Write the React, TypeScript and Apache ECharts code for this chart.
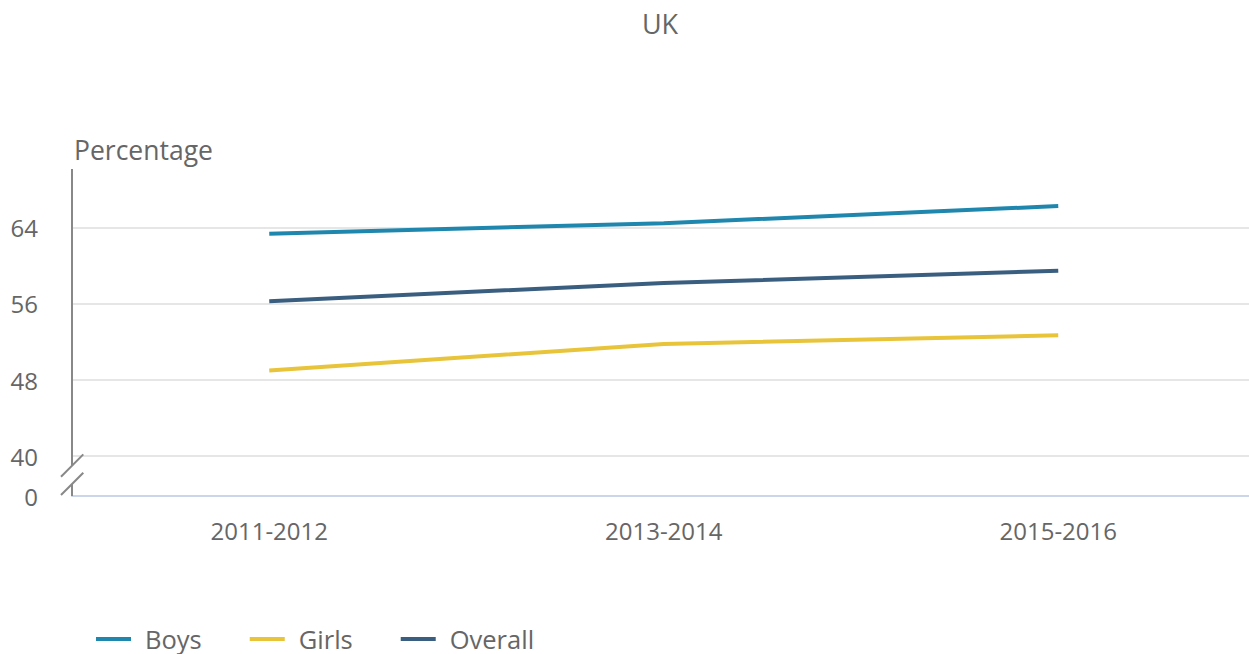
import React, { useEffect, useRef } from 'react';
import * as echarts from 'echarts';

const categories = ['2011-2012', '2013-2014', '2015-2016'];
const boys = [63.4, 64.5, 66.3];
const girls = [49.0, 51.8, 52.7];
const overall = [56.3, 58.2, 59.5];
const yTickValues = [40, 48, 56, 64];
const yBreakValue = 35.8; // shown as "0" below the axis break
const yMax = 70.2;

const FONT = '"Open Sans", sans-serif';
const TEXT = '#666666';

export default function App() {
  const ref = useRef<HTMLDivElement>(null);

  useEffect(() => {
    document.body.style.margin = '0';
    const chart = echarts.init(ref.current!, null, { renderer: 'svg' });
    const gridLeft = 72;
    chart.setOption({
      animation: false,
      title: {
        text: 'UK',
        left: 655,
        textAlign: 'center',
        top: 5,
        textStyle: { fontFamily: FONT, fontSize: 27, fontWeight: 'normal', color: TEXT },
      },
      grid: { left: gridLeft, right: 6.5, top: 169, bottom: 158, containLabel: false },
      legend: {
        data: ['Boys', 'Girls', 'Overall'],
        left: 91,
        top: 621,
        icon: 'rect',
        itemWidth: 35,
        itemHeight: 4,
        itemGap: 48,
        textStyle: { fontFamily: FONT, fontSize: 25.5, lineHeight: 24, color: TEXT, padding: [0, 0, 0, 9] },
      },
      xAxis: {
        type: 'category',
        data: categories,
        boundaryGap: true,
        axisLine: { lineStyle: { color: '#ccd6eb', width: 2 } },
        axisTick: { alignWithLabel: true, length: 20, lineStyle: { color: '#ccd6eb', width: 2 } },
        axisLabel: { fontFamily: FONT, fontSize: 24, color: TEXT, margin: 22 },
        splitLine: { show: false },
      },
      yAxis: {
        type: 'value',
        min: yBreakValue,
        max: yMax,
        name: 'Percentage',
        nameLocation: 'end',
        nameGap: 6,
        nameTextStyle: { fontFamily: FONT, fontSize: 26.5, color: TEXT, align: 'left', verticalAlign: 'bottom', padding: [0, 0, 0, 2] },
        axisLine: { show: false },
        axisTick: { show: false },
        splitLine: { show: false },
        axisLabel: {
          customValues: [yBreakValue, ...yTickValues],
          formatter: (v: number) => (Math.abs(v - yBreakValue) < 1e-6 ? '0' : String(v)),
          fontFamily: FONT,
          fontSize: 24,
          color: TEXT,
          margin: 34,
        },
      },
      series: [
        {
          name: 'Boys',
          type: 'line',
          data: boys,
          symbol: 'none',
          color: '#1f87ad',
          lineStyle: { width: 4, color: '#1f87ad' },
          z: 3,
          markLine: {
            silent: true,
            symbol: ['none', 'none'],
            label: { show: false },
            emphasis: { disabled: true },
            lineStyle: { color: '#e6e6e6', width: 2, type: 'solid' },
            data: yTickValues.map((v) => ({ yAxis: v })),
            z: 1,
          },
        },
        {
          name: 'Girls',
          type: 'line',
          data: girls,
          symbol: 'none',
          color: '#e8c43a',
          lineStyle: { width: 4, color: '#e8c43a' },
          z: 3,
        },
        {
          name: 'Overall',
          type: 'line',
          data: overall,
          symbol: 'none',
          color: '#3a5e7f',
          lineStyle: { width: 4, color: '#3a5e7f' },
          z: 3,
        },
      ],
    });

    const yTop = chart.convertToPixel({ yAxisIndex: 0 }, yMax) as number;
    const y40 = chart.convertToPixel({ yAxisIndex: 0 }, yTickValues[0]) as number;
    const yBot = chart.convertToPixel({ yAxisIndex: 0 }, yBreakValue) as number;
    const x = gridLeft;
    const axisStyle = { stroke: '#888888', lineWidth: 2 };
    chart.setOption({
      graphic: [
        { type: 'line', shape: { x1: x, y1: yTop, x2: x, y2: y40 + 9.5 }, style: axisStyle, z: 10 },
        { type: 'line', shape: { x1: x, y1: yBot - 12, x2: x, y2: yBot }, style: axisStyle, z: 10 },
        { type: 'line', shape: { x1: x - 11, y1: y40 + 20.7, x2: x + 11.3, y2: y40 - 1.7 }, style: axisStyle, z: 10 },
        { type: 'line', shape: { x1: x - 11, y1: yBot - 1, x2: x + 11.3, y2: yBot - 23.3 }, style: axisStyle, z: 10 },
      ],
    });

    return () => chart.dispose();
  }, []);

  return (
    <div style={{ position: 'absolute', left: 0, top: 0, width: 1249, height: 654, overflow: 'hidden' }}>
      <div ref={ref} style={{ width: 1262, height: 654 }} />
    </div>
  );
}
